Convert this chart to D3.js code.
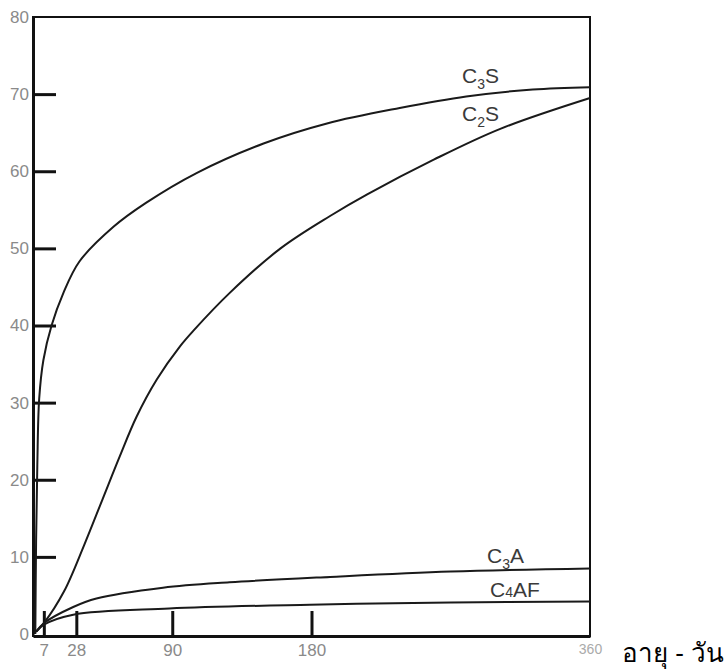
<!DOCTYPE html>
<html>
<head>
<meta charset="utf-8">
<script src="https://cdn.jsdelivr.net/npm/d3@7"></script>
<style>
    body { margin: 0; background: #fff; }
    svg { display: block; font-family: "Liberation Sans", Arial, sans-serif; }
    .axis text { fill: #8a8a8a; font-size: 17px; }
    .label { fill: #3a3a3a; font-size: 21px; }
</style>
</head>
<body>
<div id="chart"></div>
<script>
const width = 725
const height = 669

// days of age
const xTicks = [7, 28, 90, 180, 360]
const yTicks = [0, 10, 20, 30, 40, 50, 60, 70, 80]

// [day, value]
const c3s = [[1.5, 0], [2, 12], [2.8, 22], [4, 30.5], [6.7, 35.5], [12, 40], [19.6, 44.2], [30, 48.3], [52, 52.8],
    [73, 55.9], [106, 59.8], [149, 63.6], [190, 66.2], [237, 68.2], [280, 69.7], [323, 70.6], [360, 70.9]]
const c2s = [[2, 0.3], [7, 1.4], [20, 5.5], [33, 11.5], [45, 17.5], [56, 23], [67, 28.2], [80, 33],
    [95, 37.3], [104, 39.4], [127, 44.2], [160, 50], [192, 54.2], [216, 57], [259, 61.5], [302, 65.5], [360, 69.5]]
const c3a = [[2, 0.3], [7, 1.4], [26, 3.5], [41, 4.6], [84, 6.0], [127, 6.7], [192, 7.4], [270, 8.1], [360, 8.5]]
const c4af = [[2, 0.3], [7, 1.2], [26, 2.5], [88, 3.3], [179, 3.8], [270, 4.1], [360, 4.2]]

const series = [
    { name: "C", sub: "3", rest: "S", values: c3s, lx: 462, ly: 83 },
    { name: "C", sub: "2", rest: "S", values: c2s, lx: 462, ly: 121 },
    { name: "C", sub: "3", rest: "A", values: c3a, lx: 487, ly: 563 },
    { name: "C", sub: "4", rest: "AF", values: c4af, lx: 490, ly: 597, inline: true },
]

const svg = d3.select("div#chart").append("svg").attr("width", width).attr("height", height)

const x = d3.scaleLinear().domain([0, 360]).range([33, 590])
const y = d3.scaleLinear().domain([0, 80]).range([634, 17])

// frame
svg.append("rect")
    .attr("x", x(0)).attr("y", y(80))
    .attr("width", x(360) - x(0)).attr("height", 636 - y(80))
    .attr("fill", "none").attr("stroke", "#111").attr("stroke-width", 2)

const yAxis = d3.axisLeft(y).tickValues(yTicks).tickSizeInner(-23).tickSizeOuter(0).tickPadding(4)
const xAxis = d3.axisBottom(x).tickValues(xTicks).tickSizeInner(-25).tickSizeOuter(0).tickPadding(8)

const yAxisGroup = svg.append("g").attr("class", "axis")
    .attr("transform", `translate(${x(0)}, 0)`).call(yAxis)
const xAxisGroup = svg.append("g").attr("class", "axis")
    .attr("transform", `translate(0, 636)`).call(xAxis)

svg.selectAll(".axis .domain").attr("stroke", "#111").attr("stroke-width", 3)
svg.selectAll(".axis .tick line").attr("stroke", "#111").attr("stroke-width", 3)
yAxisGroup.selectAll(".tick").filter(d => d == 80 || d == 0).select("line").remove()
xAxisGroup.selectAll(".tick").filter(d => d == 360).select("line").remove()
xAxisGroup.selectAll(".tick").filter(d => d == 360).select("text")
    .style("font-size", "14px").style("fill", "#aaa")

// curves
const line = d3.line().x(d => x(d[0])).y(d => y(d[1])).curve(d3.curveCatmullRom.alpha(0.5))

svg.append("g").selectAll("path").data(series).enter()
    .append("path")
    .attr("d", d => line(d.values))
    .attr("fill", "none")
    .attr("stroke", "#1a1a1a")
    .attr("stroke-width", 2)

// curve labels
const labels = svg.append("g").selectAll("text").data(series).enter()
    .append("text")
    .attr("class", "label")
    .attr("x", d => d.lx)
    .attr("y", d => d.ly)
labels.append("tspan").text(d => d.name)
labels.append("tspan")
    .attr("dy", d => d.inline ? 0 : 6)
    .style("font-size", "14px")
    .text(d => d.sub)
labels.append("tspan")
    .attr("dy", d => d.inline ? 0 : -6)
    .text(d => d.rest)

// x axis title
svg.append("text")
    .attr("x", 622).attr("y", 662)
    .style("font-size", "26px").style("fill", "#000")
    .text("อายุ - วัน")
</script>
</body>
</html>
